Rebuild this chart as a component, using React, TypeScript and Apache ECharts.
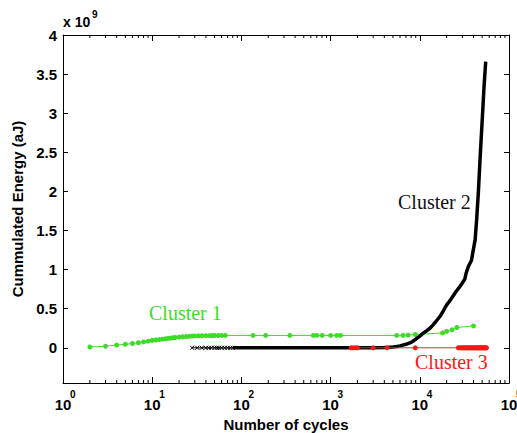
import React, { useEffect, useRef } from "react";
import * as echarts from "echarts";

// Number of cycles (x) and cumulated energy in units of 1e9 aJ (y)
const cluster1X = [2, 3, 4, 5, 6, 7, 8, 9, 10, 11, 12, 13, 14, 15, 16, 17, 18, 20, 22, 24, 26, 28, 30, 33, 36, 40, 44, 47, 50, 55, 60, 66, 135, 187, 350, 640, 700, 805, 1000, 1170, 1290, 5500, 6500, 7400, 8900, 18000, 20000, 23000, 26000, 40000];
const cluster1Y = [0.01, 0.02, 0.035, 0.045, 0.055, 0.065, 0.075, 0.085, 0.095, 0.1, 0.105, 0.11, 0.115, 0.12, 0.124, 0.128, 0.132, 0.137, 0.141, 0.144, 0.147, 0.15, 0.152, 0.153, 0.154, 0.155, 0.155, 0.156, 0.157, 0.157, 0.158, 0.158, 0.158, 0.158, 0.158, 0.158, 0.158, 0.158, 0.158, 0.158, 0.158, 0.158, 0.16, 0.162, 0.17, 0.19, 0.21, 0.23, 0.26, 0.28];

const cluster2SparseX = [28, 32, 36, 40, 43, 46, 50, 53, 56, 60, 65, 70, 75, 80];
const cluster2SparseY = [0, 0, 0, 0, 0, 0, 0, 0, 0, 0, 0, 0, 0, 0];

const cluster2X = [80, 100, 150, 200, 300, 500, 800, 1000, 1500, 2000, 3000, 4000, 4500, 5000, 5500, 6000, 7000, 8000, 9000, 10000, 11000, 12000, 13000, 14000, 15000, 16800, 18500, 20000, 22000, 23500, 25500, 28000, 30000, 32000, 33000, 35000, 38000, 39200, 41700, 43400, 45300, 47300, 49400, 52500, 54800];
const cluster2Y = [0, 0, 0, 0, 0, 0, 0, 0, 0, 0, 0.001, 0.004, 0.007, 0.011, 0.017, 0.025, 0.045, 0.07, 0.11, 0.15, 0.19, 0.22, 0.25, 0.29, 0.33, 0.4, 0.48, 0.55, 0.61, 0.66, 0.72, 0.78, 0.83, 0.88, 0.95, 1.04, 1.12, 1.21, 1.38, 1.64, 1.98, 2.4, 2.79, 3.34, 3.66];

const cluster3X = [1700, 1800, 1900, 2000, 3000, 4300, 8900, 27000, 28000, 29000, 30000, 31000, 32000, 33000, 34000, 35000, 36000, 37000, 38000, 39000, 40000, 41000, 42000, 43000, 44000, 45000, 46000, 47000, 48000, 49000, 50000, 51000, 52000, 53000, 54000, 55000, 56000];
const cluster3Y = [0, 0, 0, 0, 0, 0, 0, 0, 0, 0, 0, 0, 0, 0, 0, 0, 0, 0, 0, 0, 0, 0, 0, 0, 0, 0, 0, 0, 0, 0, 0, 0, 0, 0, 0, 0, 0];

const xMin = 1;
const xMax = 100000;
const yMin = -0.45;
const yMax = 4;

const GREEN = "#3cdc28";
const RED = "#ff1414";
const FONT = "Liberation Sans";
const SERIF = "Liberation Serif";

function zip(xs: number[], ys: number[]) {
  return xs.map((x, i) => [x, ys[i]]);
}

export default function App() {
  const ref = useRef<HTMLDivElement>(null);

  useEffect(() => {
    const chart = echarts.init(ref.current!, null, { renderer: "svg" });

    const minorTicks: number[][] = [];
    for (let e = 0; e < 5; e++) {
      for (let m = 2; m <= 9; m++) minorTicks.push([m * Math.pow(10, e), 0]);
    }

    const axisLine = { show: true, onZero: false, lineStyle: { color: "#000", width: 1 } };
    const boldText = { fontWeight: "bold", fontFamily: FONT, color: "#000" };

    const option: any = {
      animation: false,
      backgroundColor: "#fff",
      grid: { left: 63, right: 8, top: 35, bottom: 50, containLabel: false, outerBoundsMode: "none" },
      xAxis: [
        {
          type: "log",
          logBase: 10,
          min: xMin,
          max: xMax,
          position: "bottom",
          axisLine,
          axisTick: { show: true, inside: true, length: 6, lineStyle: { color: "#000" } },
          splitLine: { show: false },
          axisLabel: { ...boldText, fontSize: 15, margin: 14, formatter: () => "10" },
          name: "Number of cycles",
          nameLocation: "middle",
          nameGap: 31,
          nameTextStyle: { ...boldText, fontSize: 15 },
        },
        {
          // exponent labels of the log axis
          type: "log",
          logBase: 10,
          min: xMin,
          max: xMax,
          position: "bottom",
          axisLine: { show: false },
          axisTick: { show: false },
          splitLine: { show: false },
          axisLabel: {
            ...boldText,
            fontSize: 10,
            margin: 6,
            align: "left",
            padding: [0, 0, 0, 7],
            formatter: (v: number) => String(Math.round(Math.log10(v))),
          },
        },
        {
          type: "log",
          logBase: 10,
          min: xMin,
          max: xMax,
          position: "top",
          axisLine,
          axisTick: { show: true, inside: true, length: 6, lineStyle: { color: "#000" } },
          axisLabel: { show: false },
          splitLine: { show: false },
        },
      ],
      yAxis: [
        {
          type: "value",
          min: yMin,
          max: yMax,
          splitNumber: 9,
          position: "left",
          axisLine,
          axisTick: { show: true, inside: true, length: 5, lineStyle: { color: "#000" } },
          splitLine: { show: false },
          axisLabel: {
            ...boldText,
            showMinLabel: false,
            margin: 6,
            fontSize: 15,
            formatter: (v: number) => (v < 0 ? "" : String(v)),
          },
          name: "Cummulated Energy (aJ)",
          nameLocation: "middle",
          nameGap: 30,
          nameTextStyle: { ...boldText, fontSize: 15 },
        },
        {
          type: "value",
          min: yMin,
          max: yMax,
          splitNumber: 9,
          position: "right",
          axisLine,
          axisTick: { show: true, inside: true, length: 5, lineStyle: { color: "#000" } },
          axisLabel: { show: false },
          splitLine: { show: false },
        },
      ],
      graphic: [
        { type: "text", left: 63, top: 15, style: { text: "x 10", fontSize: 14, fontWeight: "bold", fontFamily: FONT, fill: "#000" } },
        { type: "text", left: 92, top: 9, style: { text: "9", fontSize: 10, fontWeight: "bold", fontFamily: FONT, fill: "#000" } },
        { type: "text", left: 149, top: 303, style: { text: "Cluster 1", fontSize: 20, fontFamily: SERIF, fill: GREEN } },
        { type: "text", left: 398, top: 192, style: { text: "Cluster 2", fontSize: 20, fontFamily: SERIF, fill: "#111" } },
        { type: "text", left: 415, top: 352, style: { text: "Cluster 3", fontSize: 20, fontFamily: SERIF, fill: RED } },
      ],
      series: [
        {
          type: "custom",
          name: "minorTicks",
          xAxisIndex: 0,
          yAxisIndex: 0,
          silent: true,
          clip: false,
          data: minorTicks,
          renderItem: (params: any, api: any) => {
            const x = api.coord([api.value(0), 0])[0];
            const cs = params.coordSys;
            const bottom = cs.y + cs.height;
            const top = cs.y;
            return {
              type: "group",
              children: [
                { type: "line", shape: { x1: x, y1: bottom, x2: x, y2: bottom - 3 }, style: { stroke: "#000", lineWidth: 1 } },
                { type: "line", shape: { x1: x, y1: top, x2: x, y2: top + 3 }, style: { stroke: "#000", lineWidth: 1 } },
              ],
            };
          },
        },
        {
          type: "line",
          name: "Cluster 1",
          data: zip(cluster1X, cluster1Y),
          symbol: "circle",
          symbolSize: 5,
          showAllSymbol: true,
          lineStyle: { color: GREEN, width: 1 },
          itemStyle: { color: GREEN },
          z: 3,
        },
        {
          type: "line",
          name: "Cluster 2 sparse",
          data: zip(cluster2SparseX, cluster2SparseY),
          symbol: "path://M0,0L10,10M10,0L0,10",
          symbolSize: 4,
          showAllSymbol: true,
          lineStyle: { color: "#000", width: 1 },
          itemStyle: { color: "transparent", borderColor: "#000", borderWidth: 1 },
          z: 4,
        },
        {
          type: "line",
          name: "Cluster 2",
          data: zip(cluster2X, cluster2Y),
          symbol: "none",
          lineStyle: { color: "#000", width: 3.5 },
          z: 4,
        },
        {
          type: "line",
          name: "Cluster 3",
          data: zip(cluster3X, cluster3Y),
          symbol: "circle",
          symbolSize: 5,
          showAllSymbol: true,
          lineStyle: { color: "#c83232", width: 1 },
          itemStyle: { color: RED },
          z: 5,
        },
      ],
    };

    chart.setOption(option);
    return () => chart.dispose();
  }, []);

  return (
    <div
      ref={ref}
      style={{ position: "absolute", left: 0, top: 0, width: 517, height: 433, background: "#fff" }}
    />
  );
}
